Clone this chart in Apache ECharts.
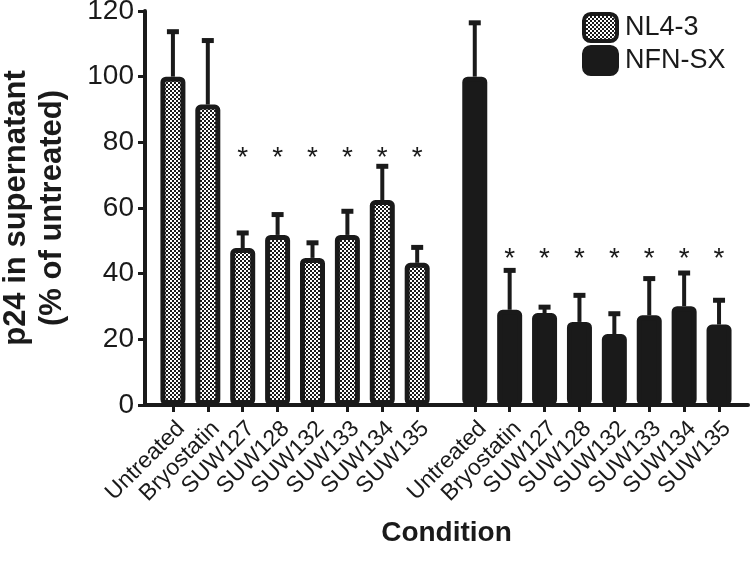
<!DOCTYPE html>
<html><head><meta charset="utf-8">
<script src="https://cdn.jsdelivr.net/npm/echarts@6/dist/echarts.min.js"></script>
<style>html,body{margin:0;padding:0;background:#fff}#c{width:750px;height:572px}</style>
</head><body><div id="c"></div>
<script>
// ---- data ----
const categories = ['Untreated', 'Bryostatin', 'SUW127', 'SUW128', 'SUW132', 'SUW133', 'SUW134', 'SUW135'];
const seriesNames = ['NL4-3', 'NFN-SX'];
const nl43Mean = [100, 91.5, 47.8, 51.8, 44.8, 51.8, 62.4, 43.3];
const nl43Err  = [13.7, 19.5, 4.6, 6.2, 4.6, 7.2, 10.3, 4.7];
const nfnMean  = [100, 29.0, 28.0, 25.3, 21.6, 27.3, 30.1, 24.5];
const nfnErr   = [16.4, 12.0, 1.8, 8.1, 6.2, 11.2, 10.1, 7.4];
const nl43Sig  = ['', '', '*', '*', '*', '*', '*', '*'];
const nfnSig   = ['', '*', '*', '*', '*', '*', '*', '*'];
const sigLevel = [77, 46.3];
const yTicks   = [0, 20, 40, 60, 80, 100, 120];

// ---- styling / layout ----
const INK = '#1a1a1a';
const FONT = '"Liberation Sans", Arial, Helvetica, sans-serif';
const GROUP_OFFSET = [0, 8.65];

function checker() {
  const c = document.createElement('canvas');
  c.width = 4; c.height = 4;
  const g = c.getContext('2d');
  g.fillStyle = '#ffffff'; g.fillRect(0, 0, 4, 4);
  g.fillStyle = INK; g.fillRect(0, 0, 2, 2); g.fillRect(2, 2, 2, 2);
  return c;
}
const pattern = { image: checker(), repeat: 'repeat' };

const groups = [
  { name: seriesNames[0], mean: nl43Mean, err: nl43Err, sig: nl43Sig, level: sigLevel[0], color: pattern },
  { name: seriesNames[1], mean: nfnMean, err: nfnErr, sig: nfnSig, level: sigLevel[1], color: INK }
];
const pos = (g, i) => GROUP_OFFSET[g] + i;
const tickVals = [];
const labelMap = {};
groups.forEach((grp, g) => categories.forEach((c, i) => {
  const p = pos(g, i); tickVals.push(p); labelMap[p.toFixed(2)] = c;
}));

const series = [];
const errData = [];
const sigData = [];
groups.forEach((grp, g) => {
  series.push({
    type: 'bar', name: grp.name, barWidth: 25, barGap: '-100%', z: 3,
    itemStyle: { color: grp.color, borderColor: INK, borderWidth: 5, borderRadius: 3 },
    data: categories.map((c, i) => [pos(g, i), grp.mean[i]])
  });
  categories.forEach((c, i) => {
    errData.push([pos(g, i), grp.mean[i], grp.mean[i] + grp.err[i]]);
    if (grp.sig[i]) sigData.push([pos(g, i), grp.level]);
  });
});
series.push({
  type: 'custom', name: 'err', z: 2, silent: true, clip: true,
  coordinateSystem: 'cartesian2d',
  encode: { x: 0, y: [1, 2] },
  renderItem: (params, api) => {
    const x = api.value(0);
    const p0 = api.coord([x, api.value(1)]);
    const p1 = api.coord([x, api.value(2)]);
    return { type: 'group', children: [
      { type: 'rect', shape: { x: p1[0] - 2, y: p1[1], width: 4, height: p0[1] - p1[1] }, style: { fill: INK } },
      { type: 'rect', shape: { x: p1[0] - 6, y: p1[1] - 2.5, width: 12, height: 5 }, style: { fill: INK } }
    ]};
  },
  data: errData
});
series.push({
  type: 'custom', name: 'sig', z: 4, silent: true,
  coordinateSystem: 'cartesian2d',
  encode: { x: 0, y: 1 },
  renderItem: (params, api) => {
    const p = api.coord([api.value(0), api.value(1)]);
    return { type: 'text', x: p[0], y: p[1] + 6,
      style: { text: '*', fontSize: 28, fontFamily: FONT, fill: INK,
        align: 'center', verticalAlign: 'middle' } };
  },
  data: sigData
});

const chart = echarts.init(document.getElementById('c'), null, { renderer: 'canvas' });
chart.setOption({
  animation: false,
  backgroundColor: '#ffffff',
  textStyle: { fontFamily: FONT, color: INK },
  tooltip: { show: false },
  axisPointer: { show: false },
  grid: { left: 145, right: 2, top: 11, bottom: 167, containLabel: false, outerBoundsMode: 'none' },
  legend: {
    data: seriesNames, orient: 'vertical', left: 577, top: 7,
    itemWidth: 33, itemHeight: 27, itemGap: 2, icon: 'roundRect',
    itemStyle: { borderColor: INK, borderWidth: 4 },
    textStyle: { fontSize: 27, color: INK, fontFamily: FONT, padding: [0, 0, 0, 3] },
    selectedMode: false
  },
  xAxis: {
    type: 'value', min: -0.8, max: 16.48,
    splitLine: { show: false },
    axisLine: { show: true, onZero: false, lineStyle: { color: INK, width: 4 } },
    axisTick: { show: true, customValues: tickVals, length: 7, lineStyle: { color: INK, width: 3 } },
    axisLabel: { customValues: tickVals, rotate: 45, fontSize: 23, color: INK, fontFamily: FONT, margin: 12,
      verticalAlign: 'top',
      formatter: v => labelMap[Number(v).toFixed(2)] || '' },
    name: 'Condition', nameLocation: 'middle', nameGap: 114,
    nameTextStyle: { fontSize: 28, fontWeight: 'bold', color: INK, fontFamily: FONT }
  },
  yAxis: {
    type: 'value', min: yTicks[0], max: yTicks[yTicks.length - 1], interval: 20,
    splitLine: { show: false },
    axisLine: { show: true, onZero: false, lineStyle: { color: INK, width: 4 } },
    axisTick: { show: true, length: 7, lineStyle: { color: INK, width: 3 } },
    axisLabel: { fontSize: 28, color: INK, fontFamily: FONT, margin: 11 },
    name: 'p24 in supernatant\n(% of untreated)', nameLocation: 'middle', nameGap: 75,
    nameTextStyle: { fontSize: 31, fontWeight: 'bold', color: INK, fontFamily: FONT, lineHeight: 36 }
  },
  series: series
});
</script></body></html>
